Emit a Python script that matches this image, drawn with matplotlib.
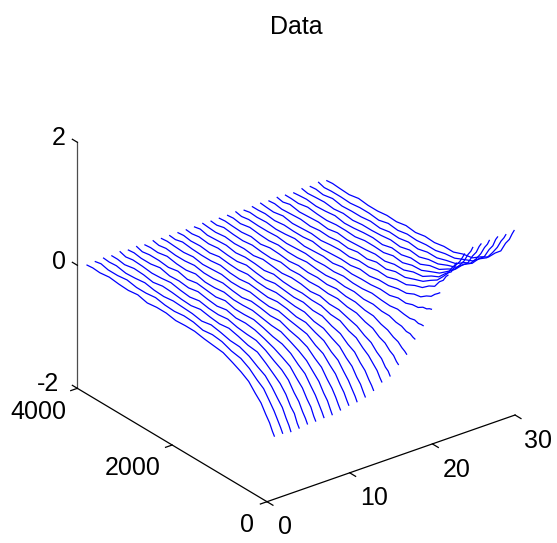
import matplotlib
matplotlib.use("Agg")
import matplotlib.pyplot as plt
import numpy as np
from mpl_toolkits.mplot3d import proj3d

FONT = ["Liberation Sans"]

x_ticks = [0, 10, 20, 30]
y_ticks = [0, 2000, 4000]
z_ticks = [-2, 0, 2]

y_samples = [20, 60, 120, 200, 300, 420, 560, 720, 900, 1100, 1300, 1500, 1700,
             1900, 2100, 2300, 2500, 2700, 2900, 3100, 3300, 3500, 3700, 3850, 3970]

# one row per line, x = 1..30
z_lines = [
    [-.99, -.93, -.82, -.72, -.58, -.48, -.35, -.27, -.20, -.13, -.11, -.09, -.06, -.06, -.07, -.04, -.04, -.06, -.02, -.04, -.03, -.01, -.03, -.02, -.03],
    [-.99, -.92, -.83, -.71, -.59, -.45, -.37, -.26, -.18, -.15, -.09, -.07, -.09, -.05, -.04, -.06, -.05, -.02, -.04, -.04, -.01, -.03, -.03, 0, -.02],
    [-1.01, -.93, -.84, -.70, -.60, -.47, -.35, -.28, -.19, -.13, -.12, -.08, -.05, -.08, -.05, -.04, -.03, -.05, -.04, -.01, -.03, -.04, -.01, -.02, -.01],
    [-1.0, -.94, -.81, -.73, -.58, -.46, -.37, -.27, -.17, -.15, -.10, -.06, -.08, -.06, -.03, -.06, -.05, -.03, -.02, -.05, -.02, -.01, -.04, -.02, -.02],
    [-.98, -.91, -.83, -.70, -.60, -.45, -.35, -.28, -.19, -.12, -.11, -.09, -.05, -.07, -.06, -.03, -.06, -.04, -.01, -.03, -.04, -.02, -.01, -.03, 0],
    [-.98, -.92, -.80, -.71, -.57, -.47, -.34, -.27, -.20, -.14, -.09, -.07, -.08, -.04, -.07, -.05, -.02, -.05, -.03, -.04, 0, -.03, -.03, -.01, -.02],
    [-.97, -.90, -.81, -.69, -.58, -.44, -.36, -.25, -.18, -.15, -.10, -.06, -.07, -.07, -.03, -.06, -.04, -.02, -.05, -.01, -.04, -.02, -.02, -.04, -.01],
    [-.97, -.90, -.79, -.70, -.56, -.46, -.34, -.26, -.19, -.12, -.11, -.08, -.05, -.06, -.06, -.03, -.05, -.05, -.01, -.04, -.03, 0, -.03, -.02, -.03],
    [-.94, -.88, -.78, -.67, -.57, -.43, -.35, -.24, -.18, -.14, -.08, -.09, -.06, -.04, -.07, -.05, -.02, -.04, -.04, -.01, -.03, -.03, -.01, -.03, -.01],
    [-.91, -.85, -.75, -.66, -.53, -.44, -.32, -.26, -.16, -.13, -.10, -.06, -.08, -.06, -.03, -.05, -.05, -.02, -.03, -.04, -.01, -.03, -.02, -.01, -.02],
    [-.90, -.83, -.75, -.64, -.54, -.41, -.34, -.23, -.18, -.11, -.11, -.07, -.05, -.07, -.05, -.03, -.05, -.04, -.01, -.03, -.03, -.02, 0, -.03, -.02],
    [-.87, -.81, -.71, -.63, -.50, -.42, -.30, -.24, -.16, -.14, -.08, -.08, -.06, -.04, -.06, -.05, -.02, -.04, -.03, -.01, -.04, -.02, -.03, -.01, -.02],
    [-.81, -.75, -.68, -.57, -.49, -.37, -.31, -.21, -.17, -.10, -.10, -.06, -.07, -.05, -.03, -.06, -.04, -.01, -.04, -.03, -.01, -.03, -.01, -.03, -.02],
    [-.72, -.67, -.58, -.51, -.42, -.35, -.25, -.21, -.13, -.12, -.07, -.07, -.05, -.06, -.05, -.02, -.05, -.03, -.02, -.04, -.01, -.02, -.03, 0, -.02],
    [-.67, -.61, -.57, -.47, -.41, -.31, -.26, -.18, -.14, -.09, -.09, -.05, -.07, -.04, -.03, -.05, -.03, -.01, -.04, -.02, -.03, -.01, -.03, -.02, -.01],
    [-.53, -.50, -.43, -.39, -.31, -.27, -.19, -.16, -.10, -.09, -.05, -.06, -.04, -.05, -.03, -.04, -.01, -.04, -.03, -.01, -.03, -.02, 0, -.03, -.02],
    [-.41, -.38, -.35, -.29, -.26, -.20, -.17, -.11, -.10, -.06, -.06, -.03, -.05, -.03, -.04, -.02, -.04, -.02, -.01, -.04, -.01, -.03, -.02, -.01, -.02],
    [-.21, -.20, -.17, -.17, -.13, -.12, -.08, -.08, -.05, -.06, -.03, -.04, -.02, -.04, -.03, -.01, -.03, -.03, -.01, -.03, -.02, 0, -.03, -.01, -.02],
    [-.04, -.04, -.05, -.03, -.05, -.04, -.02, -.04, -.03, -.01, -.03, -.03, -.01, -.03, -.02, -.03, -.01, -.02, -.03, -.01, -.02, -.02, -.01, -.03, -.01],
    [.18, .17, .14, .13, .08, .07, .03, .04, 0, .01, -.01, -.01, -.02, 0, -.03, -.01, -.02, -.03, 0, -.02, -.03, -.01, -.02, -.01, -.03],
    [.40, .37, .33, .26, .22, .15, .13, .07, .06, .02, .02, -.01, .01, -.02, -.01, -.02, -.03, 0, -.02, -.02, -.01, -.03, -.01, -.02, -.02],
    [.64, .60, .51, .45, .33, .28, .19, .15, .08, .07, .02, .03, 0, .01, -.02, 0, -.01, -.03, -.01, -.02, -.03, 0, -.03, -.02, -.01],
    [.79, .73, .66, .54, .44, .33, .26, .17, .12, .06, .06, .01, .03, -.01, .01, -.02, 0, -.02, -.01, -.03, -.01, -.02, -.03, -.01, -.02],
    [.89, .82, .72, .63, .47, .39, .27, .21, .12, .10, .04, .04, 0, .02, 0, -.01, -.02, 0, -.03, -.01, -.02, -.03, 0, -.03, -.01],
    [.95, .87, .79, .65, .53, .40, .31, .21, .15, .08, .07, .02, .04, 0, .01, .01, -.02, -.01, -.01, -.03, -.02, 0, -.03, -.02, -.02],
    [.96, .90, .78, .68, .52, .43, .30, .23, .14, .11, .04, .05, .01, .03, -.01, .01, 0, -.02, -.03, 0, -.02, -.03, -.01, -.02, -.03],
    [.97, .89, .81, .67, .54, .41, .33, .21, .16, .09, .07, .02, .04, 0, .02, 0, -.01, -.01, -.03, -.01, -.03, -.01, -.02, -.03, -.01],
    [.98, .92, .79, .69, .53, .44, .30, .24, .14, .10, .05, .05, .01, .03, 0, .01, -.02, 0, -.02, -.02, -.03, 0, -.03, -.01, -.02],
    [.97, .90, .82, .68, .55, .41, .33, .22, .16, .09, .07, .03, .03, .01, .02, -.01, .01, -.03, -.01, -.01, -.03, -.02, -.02, -.03, 0],
    [.99, .92, .80, .70, .53, .44, .31, .24, .14, .11, .05, .05, .02, .03, 0, .02, -.01, 0, -.02, -.02, 0, -.03, -.02, -.01, -.02],
]

W, H = 557, 543
fig = plt.figure(figsize=(W / 100, H / 100), dpi=100)
ax = fig.add_axes([0, 0, 1, 1], projection="3d", proj_type="ortho")
ax.view_init(elev=27.2, azim=-127.4)
ax.set_box_aspect((1, 1, 0.886))
ax.set_xlim(0, 30, view_margin=0)
ax.set_ylim(0, 4000, view_margin=0)
ax.set_zlim(-2, 2, view_margin=0)
ax.set_axis_off()


def to_pixels(x, y, z):
    u, v, _ = proj3d.proj_transform(x, y, z, ax.get_proj())
    return ax.transData.transform((u, v))


# move and scale the square axes so the box corners land where the reference has them
fig.canvas.draw()
origin = to_pixels(0, 0, -2)
left = to_pixels(0, 4000, -2)
right = to_pixels(30, 0, -2)
k = (515 - 77.3) / (right[0] - left[0])
pos = ax.get_position()
size = pos.width * W * k
x0 = 267 - (origin[0] - pos.x0 * W) * k
y0 = (H - 501.7) - (origin[1] - pos.y0 * H) * k
ax.set_position([x0 / W, y0 / H, size / W, size / H])
fig.canvas.draw()

for i, z in enumerate(z_lines):
    ax.plot(np.full(len(y_samples), i + 1), y_samples, z, color="#0000ff", lw=0.9, clip_on=False)

axis_style = dict(color="black", lw=0.9, clip_on=False)
ax.plot([0, 30], [0, 0], [-2, -2], **axis_style)
ax.plot([0, 0], [0, 4000], [-2, -2], **axis_style)
ax.plot([0, 0], [4000, 4000], [-2, 2], color="0.3", lw=0.9, clip_on=False)
for v in x_ticks:
    ax.plot([v, v], [0, -125], [-2, -2], **axis_style)
for v in y_ticks:
    ax.plot([0, -0.8], [v, v], [-2, -2], **axis_style)
for v in z_ticks:
    ax.plot([0, 0], [4000, 4105], [v, v], **axis_style)


def tick_label(x, y, z, text, dx, dy):
    u, v, _ = proj3d.proj_transform(x, y, z, ax.get_proj())
    ax.annotate(text, xy=(u, v), xytext=(dx, dy), textcoords="offset pixels",
                ha="center", va="center", fontsize=18, family=FONT, annotation_clip=False)


for v, off in zip(x_ticks, [(18, -25), (24.5, -25.5), (24, -26), (23, -26)]):
    tick_label(v, 0, -2, str(v), *off)
for v, off in zip(y_ticks, [(-20, -23), (-39, -22.7), (-39, -23.4)]):
    tick_label(0, v, -2, str(v), *off)
for v, off in zip(z_ticks, [(-29, 4), (-18.7, 3), (-18.4, 4.7)]):
    tick_label(0, 4000, v, str(v), *off)

fig.text(296 / W, 1 - 27 / H, "Data", ha="center", va="center", fontsize=18, family=FONT)

fig.savefig("out.png", dpi=100)
